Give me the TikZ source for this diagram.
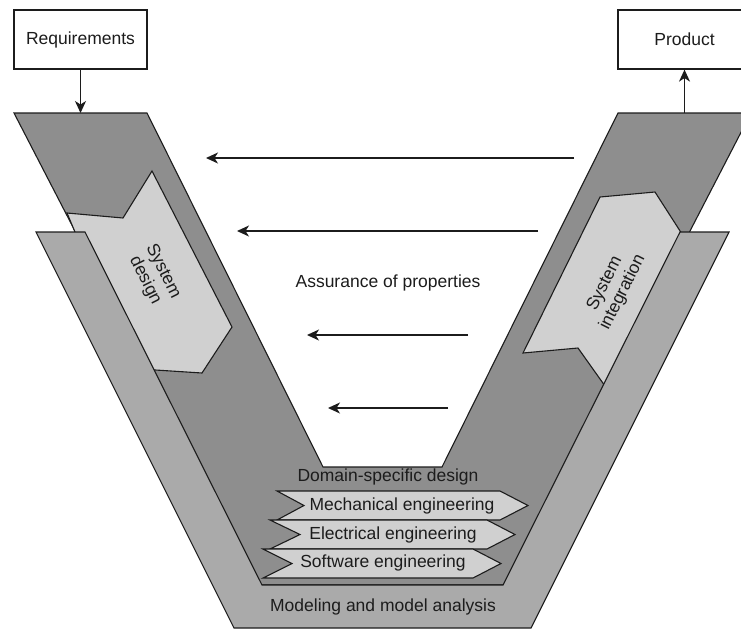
\documentclass[tikz,border=0pt]{standalone}
\usepackage{fontspec}
\setmainfont{Liberation Sans}
\usetikzlibrary{arrows.meta}
\definecolor{vdark}{RGB}{142,142,142}
\definecolor{vlight}{RGB}{170,170,170}
\definecolor{vpale}{RGB}{208,208,208}
\definecolor{ink}{RGB}{28,28,28}
\tikzset{
  outline/.style={draw=ink, line width=1.1pt, line join=miter},
  lbl/.style={font=\fontsize{17.5}{20}\selectfont, text=ink, inner sep=0pt, align=center},
  boxnode/.style={draw=ink, line width=1.2pt, fill=white, minimum width=133pt,
    minimum height=59pt, inner sep=0pt, font=\fontsize{17.5}{20}\selectfont, text=ink},
  flow/.style={draw=ink, line width=1.4pt, -{Stealth[length=12pt,width=11pt,inset=3.5pt]}},
}
\begin{document}
\begin{tikzpicture}[x=1pt, y=-1pt]
  \useasboundingbox (0,0) rectangle (741,630);
  \clip (0,0) rectangle (741,630);

  % back V: the design and integration legs
  \path[outline, fill=vdark] (14,113) -- (147,113) -- (323,467) -- (442,467)
    -- (618,113) -- (751,113) -- (507,585) -- (258,585) -- cycle;

  % system design (down) and system integration (up) arrows
  \path[outline, fill=vpale] (67,213) -- (123,218) -- (152,171) -- (232,327)
    -- (202,373) -- (140,369) -- (75,232) -- cycle;
  \path[outline, fill=vpale] (523,353) -- (600,197) -- (655,192) -- (682,234)
    -- (660,330) -- (620,392) -- (605,386) -- (578,348) -- cycle;

  % front U: modeling and model analysis
  \path[outline, fill=vlight] (36,232) -- (85,232) -- (262,585) -- (503,585)
    -- (680,232) -- (729,232) -- (531,628) -- (234,628) -- cycle;

  % domain-specific chevrons
  \path[outline, fill=vpale] (277,491) -- (500,491) -- (528,505.5) -- (500,520)
    -- (277,520) -- (304,505.5) -- cycle;
  \path[outline, fill=vpale] (270,520) -- (487,520) -- (515,534.5) -- (487,549)
    -- (270,549) -- (300,534.5) -- cycle;
  \path[outline, fill=vpale] (263,549) -- (473,549) -- (501,563.5) -- (473,578)
    -- (263,578) -- (292,563.5) -- cycle;

  % labels
  \node[lbl, rotate=-63.4] (sysdes) at (154,276) {System\\design};
  \node[lbl, rotate=63.4] (sysint) at (614,288) {System\\integration};
  \node[lbl] (assur) at (388,283) {Assurance of properties};
  \node[lbl] (domain) at (388,477) {Domain-specific design};
  \node[lbl] (mech) at (402,506) {Mechanical engineering};
  \node[lbl] (elec) at (393,535) {Electrical engineering};
  \node[lbl] (soft) at (383,563) {Software engineering};
  \node[lbl] (model) at (383,607) {Modeling and model analysis};

  % input and output boxes
  \node[boxnode] (req) at (80.5,39.5) {Requirements};
  \node[boxnode] (prod) at (684.5,39.5) {Product};
  \coordinate (vinL) at (80.5,113);
  \coordinate (voutR) at (684.5,113);
  \draw[flow] (req.south) -- (vinL);
  \draw[flow] (voutR) -- (prod.south);

  % assurance feedback arrows
  \coordinate (a1s) at (574,158); \coordinate (a1e) at (206,158);
  \coordinate (a2s) at (538,231); \coordinate (a2e) at (237,231);
  \coordinate (a3s) at (468,335); \coordinate (a3e) at (307,335);
  \coordinate (a4s) at (448,408); \coordinate (a4e) at (328,408);
  \draw[flow] (a1s) -- (a1e);
  \draw[flow] (a2s) -- (a2e);
  \draw[flow] (a3s) -- (a3e);
  \draw[flow] (a4s) -- (a4e);
\end{tikzpicture}
\end{document}
